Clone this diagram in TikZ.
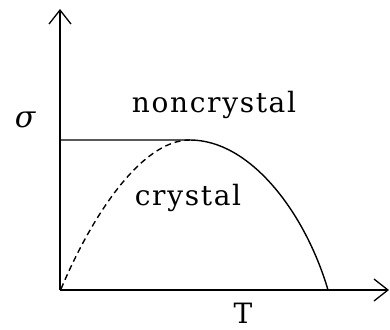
\documentclass[tikz,border=0pt]{standalone}
\usepackage{fontspec}
\newfontfamily\lab{DejaVu Serif}[LetterSpace=6]
\usetikzlibrary{arrows.meta}
\begin{document}
\begin{tikzpicture}[x=1pt,y=-1pt,
  axis/.style={line width=1.4pt,-{Straight Barb[length=14pt,width=22pt,line width=1.3pt]}},
  curve/.style={line width=1.4pt},
  lbl/.style={inner sep=0pt,anchor=base,font=\lab\fontsize{28}{32}\selectfont}]
\useasboundingbox (0,0) rectangle (390,329);
\coordinate (O) at (60,290);
\coordinate (ytop) at (60,9);
\coordinate (xend) at (389,290);
\coordinate (left) at (60,140);
\coordinate (peak) at (190,140);
\coordinate (zero) at (328,290);
\draw[axis] (O) -- (ytop);
\draw[axis] (O) -- (xend);
\draw[curve] (left) -- (peak) .. controls (250,140) and (305,212) .. (zero);
\draw[curve,dash pattern=on 6pt off 4pt] (61,289) .. controls (90,220) and (140,140) .. (peak);
\node[lbl] (nc) at (214,112) {noncrystal};
\node[lbl] (cr) at (188,205) {crystal};
\node[lbl] (T) at (243,323) {T};
\node[lbl,font=\lab\itshape\fontsize{30}{32}\selectfont] (sig) at (25,127) {σ};
\end{tikzpicture}
\end{document}
